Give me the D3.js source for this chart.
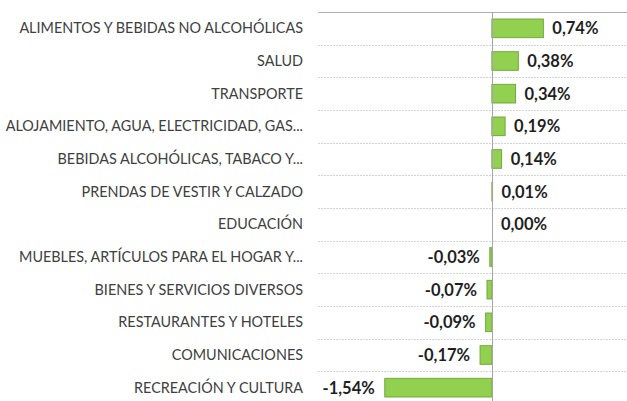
<!DOCTYPE html>
<html>
<head>
<meta charset="utf-8">
<script src="https://cdn.jsdelivr.net/npm/d3@7"></script>
<style>
  body { margin: 0; background: #fff; }
  svg { display: block; }
</style>
</head>
<body>
<div id="chartArea"></div>
<script>
// categorias y variaciones (%)
var categories = [
  "ALIMENTOS Y BEBIDAS NO ALCOHÓLICAS",
  "SALUD",
  "TRANSPORTE",
  "ALOJAMIENTO, AGUA, ELECTRICIDAD, GAS...",
  "BEBIDAS ALCOHÓLICAS, TABACO Y...",
  "PRENDAS DE VESTIR Y CALZADO",
  "EDUCACIÓN",
  "MUEBLES, ARTÍCULOS PARA EL HOGAR Y...",
  "BIENES Y SERVICIOS DIVERSOS",
  "RESTAURANTES Y HOTELES",
  "COMUNICACIONES",
  "RECREACIÓN Y CULTURA"
];
var values = [0.74, 0.38, 0.34, 0.19, 0.14, 0.01, 0.00, -0.03, -0.07, -0.09, -0.17, -1.54];
var valueLabels = ["0,74%", "0,38%", "0,34%", "0,19%", "0,14%", "0,01%", "0,00%", "-0,03%", "-0,07%", "-0,09%", "-0,17%", "-1,54%"];

var width = 627, height = 401;
var margin = {top: 12, left: 318};
var plotRight = 631;
var plotBottom = 404;

var svg = d3.select('#chartArea').append('svg')
    .attr('width', width)
    .attr('height', height);

var xscale = d3.scaleLinear().domain([-2.5, 2]).range([margin.left, plotRight]);
var yscale = d3.scaleBand().domain(categories).range([margin.top, plotBottom]).paddingInner(0.43).paddingOuter(0.215);
var rowScale = d3.scaleBand().domain(categories).range([margin.top, plotBottom]);

// lineas horizontales entre categorias
var bounds = categories.map(function(c){ return rowScale(c); });
svg.append('g').selectAll('line').data(bounds).enter().append('line')
    .attr('x1', margin.left).attr('x2', width)
    .attr('y1', function(d){ return Math.round(d) + 0.5; })
    .attr('y2', function(d){ return Math.round(d) + 0.5; })
    .attr('stroke', function(d, i){ return i === 0 ? '#b0b0b0' : '#d4d4d4'; })
    .attr('stroke-dasharray', function(d, i){ return i === 0 ? null : '2,1'; })
    .attr('stroke-width', 1);

// barras
svg.append('g').selectAll('rect').data(values).enter().append('rect')
    .attr('x', function(d){ return xscale(Math.min(0, d)); })
    .attr('y', function(d, i){ return yscale(categories[i]); })
    .attr('width', function(d){ return Math.abs(xscale(d) - xscale(0)); })
    .attr('height', yscale.bandwidth())
    .attr('fill', '#92d050')
    .attr('stroke', '#74a83c')
    .attr('stroke-width', 1);

// eje cero
svg.append('line')
    .attr('x1', Math.round(xscale(0)) + 0.5).attr('x2', Math.round(xscale(0)) + 0.5)
    .attr('y1', margin.top).attr('y2', height)
    .attr('stroke', '#a6a6a6').attr('stroke-width', 1);

// etiquetas de categoria
svg.append('g').selectAll('text').data(categories).enter().append('text')
    .attr('x', 303)
    .attr('y', function(d){ return rowScale(d) + rowScale.bandwidth() / 2; })
    .attr('dy', '0.35em')
    .attr('text-anchor', 'end')
    .style('font-family', 'Lato, "Open Sans", sans-serif')
    .style('font-size', '14.4px')
    .style('fill', '#404040')
    .text(function(d){ return d; });

// etiquetas de valor
svg.append('g').selectAll('text').data(values).enter().append('text')
    .attr('x', function(d){ return d < 0 ? xscale(d) - 10 : xscale(d) + 9; })
    .attr('y', function(d, i){ return rowScale(categories[i]) + rowScale.bandwidth() / 2; })
    .attr('dy', '0.36em')
    .attr('text-anchor', function(d){ return d < 0 ? 'end' : 'start'; })
    .style('font-family', 'Lato, "Open Sans", sans-serif')
    .style('font-size', '16.5px')
    .style('font-weight', 'bold')
    .style('fill', '#1f1f1f')
    .text(function(d, i){ return valueLabels[i]; });
</script>
</body>
</html>
